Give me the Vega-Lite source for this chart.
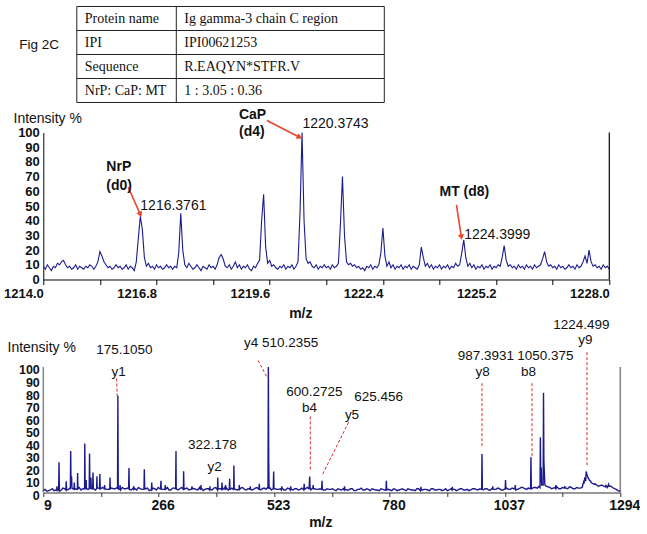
{
"$schema": "https://vega.github.io/schema/vega-lite/v6.json",
"padding": {"left": 3.3, "top": 5.5, "right": 0, "bottom": 0},
"bounds": "flush",
"spacing": 30,
"config": {"view": {"stroke": null}, "font": "Liberation Sans", "axis": {"labelFont": "Liberation Sans", "titleFont": "Liberation Sans", "grid": false, "labelColor": "#111", "titleColor": "#111", "labelOverlap": false}},
"datasets": {
"table": [{"row":"Protein name","value":"Ig gamma-3 chain C region"},{"row":"IPI","value":"IPI00621253"},{"row":"Sequence","value":"R.EAQYN*STFR.V"},{"row":"NrP: CaP: MT","value":"1 : 3.05 : 0.36"}],
"top": [
{"mz":1214.00,"i":9},{"mz":1214.05,"i":7},{"mz":1214.10,"i":10},{"mz":1214.15,"i":8},{"mz":1214.20,"i":6},{"mz":1214.25,"i":9},{"mz":1214.30,"i":8},{"mz":1214.35,"i":11},{"mz":1214.40,"i":10},{"mz":1214.45,"i":12},
{"mz":1214.50,"i":13},{"mz":1214.55,"i":10},{"mz":1214.60,"i":8},{"mz":1214.65,"i":9},{"mz":1214.70,"i":7},{"mz":1214.75,"i":8},{"mz":1214.80,"i":10},{"mz":1214.85,"i":7},{"mz":1214.90,"i":9},{"mz":1214.95,"i":8},
{"mz":1215.00,"i":7},{"mz":1215.05,"i":9},{"mz":1215.10,"i":8},{"mz":1215.15,"i":10},{"mz":1215.20,"i":9},{"mz":1215.25,"i":7},{"mz":1215.30,"i":9},{"mz":1215.35,"i":12},{"mz":1215.40,"i":19},{"mz":1215.45,"i":16},
{"mz":1215.50,"i":12},{"mz":1215.55,"i":10},{"mz":1215.60,"i":8},{"mz":1215.65,"i":9},{"mz":1215.70,"i":7},{"mz":1215.75,"i":8},{"mz":1215.80,"i":10},{"mz":1215.85,"i":8},{"mz":1215.90,"i":9},{"mz":1215.95,"i":7},
{"mz":1216.00,"i":8},{"mz":1216.05,"i":10},{"mz":1216.10,"i":7},{"mz":1216.15,"i":9},{"mz":1216.20,"i":8},{"mz":1216.25,"i":6},{"mz":1216.30,"i":12},{"mz":1216.35,"i":28},{"mz":1216.40,"i":43},{"mz":1216.45,"i":34},
{"mz":1216.50,"i":15},{"mz":1216.55,"i":9},{"mz":1216.60,"i":11},{"mz":1216.65,"i":8},{"mz":1216.70,"i":9},{"mz":1216.75,"i":7},{"mz":1216.80,"i":10},{"mz":1216.85,"i":8},{"mz":1216.90,"i":9},{"mz":1216.95,"i":7},
{"mz":1217.00,"i":8},{"mz":1217.05,"i":10},{"mz":1217.10,"i":8},{"mz":1217.15,"i":9},{"mz":1217.20,"i":7},{"mz":1217.25,"i":9},{"mz":1217.30,"i":8},{"mz":1217.35,"i":18},{"mz":1217.40,"i":45},{"mz":1217.45,"i":20},
{"mz":1217.50,"i":10},{"mz":1217.55,"i":8},{"mz":1217.60,"i":11},{"mz":1217.65,"i":9},{"mz":1217.70,"i":7},{"mz":1217.75,"i":8},{"mz":1217.80,"i":10},{"mz":1217.85,"i":8},{"mz":1217.90,"i":6},{"mz":1217.95,"i":9},
{"mz":1218.00,"i":8},{"mz":1218.05,"i":7},{"mz":1218.10,"i":10},{"mz":1218.15,"i":8},{"mz":1218.20,"i":9},{"mz":1218.25,"i":7},{"mz":1218.30,"i":10},{"mz":1218.35,"i":15},{"mz":1218.40,"i":17},{"mz":1218.45,"i":14},
{"mz":1218.50,"i":9},{"mz":1218.55,"i":8},{"mz":1218.60,"i":10},{"mz":1218.65,"i":7},{"mz":1218.70,"i":9},{"mz":1218.75,"i":12},{"mz":1218.80,"i":8},{"mz":1218.85,"i":10},{"mz":1218.90,"i":7},{"mz":1218.95,"i":9},
{"mz":1219.00,"i":8},{"mz":1219.05,"i":10},{"mz":1219.10,"i":7},{"mz":1219.15,"i":6},{"mz":1219.20,"i":9},{"mz":1219.25,"i":8},{"mz":1219.30,"i":11},{"mz":1219.35,"i":13},{"mz":1219.40,"i":40},{"mz":1219.45,"i":58},
{"mz":1219.50,"i":22},{"mz":1219.55,"i":11},{"mz":1219.60,"i":13},{"mz":1219.65,"i":9},{"mz":1219.70,"i":10},{"mz":1219.75,"i":8},{"mz":1219.80,"i":7},{"mz":1219.85,"i":9},{"mz":1219.90,"i":8},{"mz":1219.95,"i":10},
{"mz":1220.00,"i":7},{"mz":1220.05,"i":9},{"mz":1220.10,"i":8},{"mz":1220.15,"i":10},{"mz":1220.20,"i":7},{"mz":1220.25,"i":9},{"mz":1220.30,"i":12},{"mz":1220.35,"i":45},{"mz":1220.40,"i":100},{"mz":1220.45,"i":40},
{"mz":1220.50,"i":14},{"mz":1220.55,"i":11},{"mz":1220.60,"i":12},{"mz":1220.65,"i":9},{"mz":1220.70,"i":8},{"mz":1220.75,"i":10},{"mz":1220.80,"i":7},{"mz":1220.85,"i":9},{"mz":1220.90,"i":8},{"mz":1220.95,"i":10},
{"mz":1221.00,"i":8},{"mz":1221.05,"i":9},{"mz":1221.10,"i":7},{"mz":1221.15,"i":10},{"mz":1221.20,"i":8},{"mz":1221.25,"i":9},{"mz":1221.30,"i":11},{"mz":1221.35,"i":38},{"mz":1221.40,"i":70},{"mz":1221.45,"i":30},
{"mz":1221.50,"i":12},{"mz":1221.55,"i":10},{"mz":1221.60,"i":11},{"mz":1221.65,"i":9},{"mz":1221.70,"i":10},{"mz":1221.75,"i":8},{"mz":1221.80,"i":9},{"mz":1221.85,"i":7},{"mz":1221.90,"i":8},{"mz":1221.95,"i":6},
{"mz":1222.00,"i":9},{"mz":1222.05,"i":8},{"mz":1222.10,"i":10},{"mz":1222.15,"i":7},{"mz":1222.20,"i":9},{"mz":1222.25,"i":8},{"mz":1222.30,"i":10},{"mz":1222.35,"i":18},{"mz":1222.40,"i":35},{"mz":1222.45,"i":16},
{"mz":1222.50,"i":9},{"mz":1222.55,"i":12},{"mz":1222.60,"i":8},{"mz":1222.65,"i":10},{"mz":1222.70,"i":7},{"mz":1222.75,"i":9},{"mz":1222.80,"i":8},{"mz":1222.85,"i":10},{"mz":1222.90,"i":7},{"mz":1222.95,"i":9},
{"mz":1223.00,"i":8},{"mz":1223.05,"i":10},{"mz":1223.10,"i":7},{"mz":1223.15,"i":9},{"mz":1223.20,"i":8},{"mz":1223.25,"i":7},{"mz":1223.30,"i":10},{"mz":1223.35,"i":22},{"mz":1223.40,"i":15},{"mz":1223.45,"i":9},
{"mz":1223.50,"i":11},{"mz":1223.55,"i":8},{"mz":1223.60,"i":10},{"mz":1223.65,"i":7},{"mz":1223.70,"i":9},{"mz":1223.75,"i":8},{"mz":1223.80,"i":10},{"mz":1223.85,"i":7},{"mz":1223.90,"i":9},{"mz":1223.95,"i":8},
{"mz":1224.00,"i":10},{"mz":1224.05,"i":7},{"mz":1224.10,"i":9},{"mz":1224.15,"i":8},{"mz":1224.20,"i":11},{"mz":1224.25,"i":9},{"mz":1224.30,"i":10},{"mz":1224.35,"i":18},{"mz":1224.40,"i":27},{"mz":1224.45,"i":15},
{"mz":1224.50,"i":9},{"mz":1224.55,"i":11},{"mz":1224.60,"i":8},{"mz":1224.65,"i":10},{"mz":1224.70,"i":7},{"mz":1224.75,"i":9},{"mz":1224.80,"i":8},{"mz":1224.85,"i":10},{"mz":1224.90,"i":7},{"mz":1224.95,"i":9},
{"mz":1225.00,"i":8},{"mz":1225.05,"i":10},{"mz":1225.10,"i":7},{"mz":1225.15,"i":9},{"mz":1225.20,"i":8},{"mz":1225.25,"i":10},{"mz":1225.30,"i":9},{"mz":1225.35,"i":15},{"mz":1225.40,"i":23},{"mz":1225.45,"i":13},
{"mz":1225.50,"i":9},{"mz":1225.55,"i":10},{"mz":1225.60,"i":8},{"mz":1225.65,"i":9},{"mz":1225.70,"i":7},{"mz":1225.75,"i":10},{"mz":1225.80,"i":8},{"mz":1225.85,"i":9},{"mz":1225.90,"i":7},{"mz":1225.95,"i":10},
{"mz":1226.00,"i":8},{"mz":1226.05,"i":9},{"mz":1226.10,"i":7},{"mz":1226.15,"i":10},{"mz":1226.20,"i":8},{"mz":1226.25,"i":9},{"mz":1226.30,"i":10},{"mz":1226.35,"i":14},{"mz":1226.40,"i":19},{"mz":1226.45,"i":12},
{"mz":1226.50,"i":9},{"mz":1226.55,"i":10},{"mz":1226.60,"i":8},{"mz":1226.65,"i":9},{"mz":1226.70,"i":7},{"mz":1226.75,"i":10},{"mz":1226.80,"i":8},{"mz":1226.85,"i":9},{"mz":1226.90,"i":7},{"mz":1226.95,"i":8},
{"mz":1227.00,"i":10},{"mz":1227.05,"i":8},{"mz":1227.10,"i":9},{"mz":1227.15,"i":7},{"mz":1227.20,"i":10},{"mz":1227.25,"i":8},{"mz":1227.30,"i":9},{"mz":1227.35,"i":12},{"mz":1227.40,"i":16},{"mz":1227.45,"i":11},
{"mz":1227.50,"i":20},{"mz":1227.55,"i":12},{"mz":1227.60,"i":9},{"mz":1227.65,"i":10},{"mz":1227.70,"i":8},{"mz":1227.75,"i":9},{"mz":1227.80,"i":7},{"mz":1227.85,"i":10},{"mz":1227.90,"i":8},{"mz":1227.95,"i":9},
{"mz":1228.00,"i":7}
],
"topLabels": [
{"mz":1218.84,"i":111.6,"text":"CaP","kind":"name"},
{"mz":1218.84,"i":100.2,"text":"(d4)","kind":"name"},
{"mz":1215.56,"i":76.4,"text":"NrP","kind":"name"},
{"mz":1215.56,"i":63.9,"text":"(d0)","kind":"name"},
{"mz":1223.80,"i":59.4,"text":"MT (d8)","kind":"name"},
{"mz":1220.41,"i":106.1,"text":"1220.3743","kind":"mz"},
{"mz":1216.40,"i":49.7,"text":"1216.3761","kind":"mz"},
{"mz":1224.41,"i":30.4,"text":"1224.3999","kind":"mz"}
],
"arrows": [
{"name":"CaP","mz":1219.53,"i":108.2,"mz2":1220.34,"i2":96.8},
{"name":"NrP","mz":1216.10,"i":62.8,"mz2":1216.40,"i2":44.2},
{"name":"MT","mz":1224.22,"i":50.8,"mz2":1224.34,"i2":28.8}
],
"bottom": [
{"mz":9,"i":1.5},{"mz":17,"i":1},{"mz":25,"i":2},{"mz":33,"i":1.5},{"mz":41,"i":2.5},{"mz":49,"i":2},{"mz":57,"i":3},{"mz":65,"i":2.5},{"mz":73,"i":3.5},{"mz":81,"i":3},
{"mz":89,"i":4},{"mz":97,"i":3},{"mz":105,"i":3.5},{"mz":113,"i":4},{"mz":121,"i":3},{"mz":129,"i":4.5},{"mz":137,"i":3},{"mz":145,"i":3.5},{"mz":153,"i":2.5},{"mz":161,"i":3.5},
{"mz":169,"i":3},{"mz":177,"i":2.5},{"mz":185,"i":4},{"mz":193,"i":3},{"mz":201,"i":2.5},{"mz":209,"i":3.5},{"mz":217,"i":2},{"mz":225,"i":3},{"mz":233,"i":2.5},{"mz":241,"i":3.5},
{"mz":249,"i":2},{"mz":257,"i":3},{"mz":265,"i":4},{"mz":273,"i":2.5},{"mz":281,"i":3},{"mz":289,"i":2},{"mz":297,"i":3.5},{"mz":305,"i":2.5},{"mz":313,"i":3},{"mz":321,"i":2},
{"mz":329,"i":3.5},{"mz":337,"i":2.5},{"mz":345,"i":3},{"mz":353,"i":2},{"mz":361,"i":3.5},{"mz":369,"i":2.5},{"mz":377,"i":3},{"mz":385,"i":2},{"mz":393,"i":4},{"mz":401,"i":3},
{"mz":409,"i":2.5},{"mz":417,"i":3.5},{"mz":425,"i":2.5},{"mz":433,"i":3},{"mz":441,"i":2},{"mz":449,"i":3.5},{"mz":457,"i":2.5},{"mz":465,"i":3},{"mz":473,"i":2},{"mz":481,"i":3.5},
{"mz":489,"i":2.5},{"mz":497,"i":3},{"mz":505,"i":2.5},{"mz":513,"i":4},{"mz":521,"i":3},{"mz":529,"i":2.5},{"mz":537,"i":3},{"mz":545,"i":2},{"mz":553,"i":3.5},{"mz":561,"i":2.5},
{"mz":569,"i":3},{"mz":577,"i":2},{"mz":585,"i":3.5},{"mz":593,"i":3},{"mz":601,"i":2.5},{"mz":609,"i":3.5},{"mz":617,"i":2.5},{"mz":625,"i":3},{"mz":633,"i":2},{"mz":641,"i":3},
{"mz":649,"i":2.5},{"mz":657,"i":2},{"mz":665,"i":3},{"mz":673,"i":2},{"mz":681,"i":2.5},{"mz":689,"i":2},{"mz":697,"i":3},{"mz":705,"i":1.5},{"mz":713,"i":2.5},{"mz":721,"i":2},
{"mz":729,"i":3},{"mz":737,"i":1.5},{"mz":745,"i":2.5},{"mz":753,"i":2},{"mz":761,"i":3},{"mz":769,"i":2},{"mz":777,"i":2.5},{"mz":785,"i":1.5},{"mz":793,"i":2.5},{"mz":801,"i":2},
{"mz":809,"i":3},{"mz":817,"i":1.5},{"mz":825,"i":2.5},{"mz":833,"i":2},{"mz":841,"i":3},{"mz":849,"i":1.5},{"mz":857,"i":2.5},{"mz":865,"i":2},{"mz":873,"i":3},{"mz":881,"i":2},
{"mz":889,"i":2.5},{"mz":897,"i":1.5},{"mz":905,"i":3},{"mz":913,"i":2},{"mz":921,"i":2.5},{"mz":929,"i":1.5},{"mz":937,"i":3},{"mz":945,"i":2},{"mz":953,"i":2.5},{"mz":961,"i":2},
{"mz":969,"i":3},{"mz":977,"i":2},{"mz":985,"i":2.5},{"mz":993,"i":3},{"mz":1001,"i":2},{"mz":1009,"i":3.5},{"mz":1017,"i":2.5},{"mz":1025,"i":3},{"mz":1033,"i":2},{"mz":1041,"i":3.5},
{"mz":1049,"i":2.5},{"mz":1057,"i":3},{"mz":1065,"i":2.5},{"mz":1073,"i":4},{"mz":1081,"i":3},{"mz":1089,"i":3.5},{"mz":1097,"i":3},{"mz":1105,"i":4},{"mz":1113,"i":5},{"mz":1121,"i":6},
{"mz":1129,"i":5},{"mz":1137,"i":4},{"mz":1145,"i":3.5},{"mz":1153,"i":4.5},{"mz":1161,"i":3},{"mz":1169,"i":3.5},{"mz":1177,"i":3},{"mz":1185,"i":4},{"mz":1193,"i":3},{"mz":1201,"i":3.5},
{"mz":1209,"i":4},{"mz":1217,"i":9},{"mz":1225,"i":10},{"mz":1233,"i":7},{"mz":1241,"i":6},{"mz":1249,"i":5.5},{"mz":1257,"i":5},{"mz":1265,"i":4},{"mz":1273,"i":5},{"mz":1281,"i":3},
{"mz":1289,"i":1.5},{"mz":1294,"i":1},
{"mz":13,"i":2.5},{"mz":21,"i":1.5},{"mz":29,"i":3},{"mz":37,"i":2},{"mz":45,"i":1},{"mz":53,"i":3.5},{"mz":61,"i":2},{"mz":69,"i":4},{"mz":77,"i":2.5},{"mz":85,"i":3},
{"mz":93,"i":2},{"mz":101,"i":4.5},{"mz":109,"i":2.5},{"mz":117,"i":3},{"mz":125,"i":2},{"mz":133,"i":3.5},{"mz":141,"i":4},{"mz":149,"i":2.5},{"mz":157,"i":2},{"mz":165,"i":3},
{"mz":173,"i":4},{"mz":181,"i":2},{"mz":189,"i":3},{"mz":197,"i":3.5},{"mz":205,"i":2},{"mz":213,"i":3},{"mz":221,"i":4},{"mz":229,"i":2.5},{"mz":237,"i":3},{"mz":245,"i":1.5},
{"mz":253,"i":3.5},{"mz":261,"i":2},{"mz":269,"i":3},{"mz":277,"i":2.5},{"mz":285,"i":4},{"mz":293,"i":2},{"mz":301,"i":3.5},{"mz":309,"i":2},{"mz":317,"i":4},{"mz":325,"i":3},
{"mz":333,"i":2},{"mz":341,"i":3.5},{"mz":349,"i":2.5},{"mz":357,"i":4},{"mz":365,"i":1.5},{"mz":373,"i":3},{"mz":381,"i":2.5},{"mz":389,"i":3.5},{"mz":397,"i":2},{"mz":405,"i":3},
{"mz":413,"i":4},{"mz":421,"i":2},{"mz":429,"i":3.5},{"mz":437,"i":2.5},{"mz":445,"i":3},{"mz":453,"i":4},{"mz":461,"i":2},{"mz":469,"i":3},{"mz":477,"i":2.5},{"mz":485,"i":4},
{"mz":493,"i":2},{"mz":501,"i":3.5},{"mz":509,"i":4.5},{"mz":517,"i":2},{"mz":525,"i":3},{"mz":533,"i":2.5},{"mz":541,"i":3.5},{"mz":549,"i":2},{"mz":557,"i":3},{"mz":565,"i":2},
{"mz":573,"i":3},{"mz":581,"i":2.5},{"mz":589,"i":2},{"mz":597,"i":4},{"mz":605,"i":2},{"mz":613,"i":3},{"mz":621,"i":2.5},{"mz":629,"i":3.5},{"mz":637,"i":2},{"mz":645,"i":2.5},
{"mz":653,"i":3},{"mz":661,"i":1.5},{"mz":669,"i":2.5},{"mz":677,"i":3},{"mz":685,"i":2},{"mz":693,"i":3},{"mz":701,"i":1.5},{"mz":709,"i":2.5},{"mz":717,"i":3.5},{"mz":725,"i":2},
{"mz":733,"i":2.5},{"mz":741,"i":3},{"mz":749,"i":2},{"mz":757,"i":1.5},{"mz":765,"i":2.5},{"mz":773.5,"i":3.5},{"mz":781,"i":2},{"mz":789,"i":3},{"mz":797,"i":1.5},{"mz":805,"i":2.5},
{"mz":813,"i":2},{"mz":821,"i":3},{"mz":829,"i":2},{"mz":837,"i":1.5},{"mz":845,"i":3},{"mz":853,"i":2},{"mz":861,"i":2.5},{"mz":869,"i":1.5},{"mz":877,"i":3},{"mz":885,"i":2},
{"mz":893,"i":2.5},{"mz":901,"i":2},{"mz":909,"i":1.5},{"mz":917,"i":3},{"mz":925,"i":2.5},{"mz":933,"i":2},{"mz":941,"i":3},{"mz":949,"i":2},{"mz":957,"i":1.5},{"mz":965,"i":3},
{"mz":973,"i":2.5},{"mz":981,"i":3},{"mz":989,"i":2},{"mz":997,"i":3},{"mz":1005,"i":2},{"mz":1013,"i":2.5},{"mz":1021,"i":3.5},{"mz":1029,"i":2},{"mz":1037,"i":3},{"mz":1045,"i":2.5},
{"mz":1053,"i":3.5},{"mz":1061,"i":2},{"mz":1069,"i":3},{"mz":1077,"i":4},{"mz":1085,"i":2.5},{"mz":1093,"i":3},{"mz":1101,"i":4},{"mz":1109,"i":3.5},
{"mz":1133,"i":4.5},{"mz":1141,"i":3},{"mz":1149,"i":4},{"mz":1157,"i":3},{"mz":1165,"i":4},{"mz":1173,"i":3.5},{"mz":1181,"i":4.5},{"mz":1189,"i":3},{"mz":1197,"i":4},{"mz":1205,"i":3.5},
{"mz":1213,"i":7},{"mz":1221,"i":13},{"mz":1229,"i":8},{"mz":1237,"i":6.5},{"mz":1245,"i":5},{"mz":1253,"i":6},{"mz":1261,"i":4.5},{"mz":1269,"i":5},{"mz":1277,"i":4},{"mz":1285,"i":2.5},
{"mz":38.7,"i":2},{"mz":39.5,"i":5},{"mz":40.3,"i":2},
{"mz":43.2,"i":2},{"mz":44,"i":24},{"mz":44.8,"i":2},
{"mz":59.2,"i":2},{"mz":60,"i":9},{"mz":60.8,"i":2.5},
{"mz":69.2,"i":2.5},{"mz":70,"i":33},{"mz":70.8,"i":5},{"mz":72,"i":13},{"mz":72.8,"i":3},
{"mz":77.2,"i":2.5},{"mz":78,"i":8},{"mz":78.8,"i":2.5},
{"mz":84.2,"i":2.5},{"mz":85.4,"i":15.5},{"mz":86.2,"i":3},
{"mz":100.2,"i":3},{"mz":101.4,"i":39},{"mz":102.2,"i":3},
{"mz":103.7,"i":3},{"mz":104.5,"i":10},{"mz":105.3,"i":3},
{"mz":111.2,"i":3},{"mz":112,"i":31},{"mz":112.8,"i":3.5},
{"mz":114.2,"i":3},{"mz":115,"i":12},{"mz":115.8,"i":3},
{"mz":118.9,"i":3},{"mz":119.7,"i":16},{"mz":120.5,"i":3},
{"mz":127.7,"i":3},{"mz":128.5,"i":13},{"mz":129.3,"i":3.5},
{"mz":134.2,"i":3},{"mz":135,"i":14.7},{"mz":135.8,"i":3},
{"mz":144.7,"i":3},{"mz":145.5,"i":6},{"mz":146.3,"i":3},
{"mz":156.7,"i":3},{"mz":157.5,"i":12},{"mz":158.3,"i":3},
{"mz":174.3,"i":3},{"mz":175.1,"i":77},{"mz":175.9,"i":3},
{"mz":179.2,"i":3},{"mz":180,"i":6},{"mz":180.8,"i":3},
{"mz":199,"i":3},{"mz":199.8,"i":19.5},{"mz":200.6,"i":3},
{"mz":209.7,"i":3},{"mz":210.5,"i":5},{"mz":211.3,"i":2.5},
{"mz":233.2,"i":2.5},{"mz":234,"i":18.6},{"mz":234.8,"i":3},
{"mz":249.7,"i":2.5},{"mz":250.5,"i":8},{"mz":251.3,"i":2.5},
{"mz":270.2,"i":3},{"mz":271,"i":9.4},{"mz":271.8,"i":2.5},
{"mz":279.7,"i":2.5},{"mz":280.5,"i":6},{"mz":281.3,"i":2.5},
{"mz":303.7,"i":3},{"mz":304.5,"i":33},{"mz":305.3,"i":3},
{"mz":320.7,"i":2.5},{"mz":321.5,"i":17},{"mz":322.3,"i":2.5},
{"mz":339.2,"i":2.5},{"mz":340,"i":5},{"mz":340.8,"i":2.5},
{"mz":359.2,"i":2},{"mz":360,"i":6},{"mz":360.8,"i":2.5},
{"mz":379.2,"i":2},{"mz":380,"i":5},{"mz":380.8,"i":2},
{"mz":396.2,"i":2.5},{"mz":397.4,"i":12},{"mz":398.2,"i":2.5},
{"mz":406.2,"i":2.5},{"mz":407,"i":8},{"mz":407.8,"i":2.5},
{"mz":414.2,"i":2},{"mz":415,"i":6},{"mz":415.8,"i":2.5},
{"mz":423.2,"i":2.5},{"mz":424,"i":11},{"mz":424.8,"i":2.5},
{"mz":432.2,"i":2.5},{"mz":433.4,"i":21.6},{"mz":434.2,"i":3},
{"mz":444.2,"i":2.5},{"mz":445.4,"i":6},{"mz":446.2,"i":2.5},
{"mz":469.2,"i":2},{"mz":470,"i":5},{"mz":470.8,"i":2.5},
{"mz":489.2,"i":2.5},{"mz":490,"i":7},{"mz":490.8,"i":2.5},
{"mz":509.4,"i":3},{"mz":510.2,"i":100},{"mz":511,"i":26},{"mz":511.8,"i":3},
{"mz":521.2,"i":3},{"mz":522,"i":16.8},{"mz":522.8,"i":3},
{"mz":539.2,"i":2},{"mz":540,"i":5},{"mz":540.8,"i":2.5},
{"mz":559.2,"i":2},{"mz":560,"i":5},{"mz":560.8,"i":2.5},
{"mz":589.2,"i":2.5},{"mz":590,"i":7},{"mz":590.8,"i":2.5},
{"mz":600.5,"i":3},{"mz":601.5,"i":8},{"mz":602.3,"i":12.8},{"mz":603.1,"i":4},
{"mz":609.2,"i":3},{"mz":610,"i":6},{"mz":610.8,"i":3},
{"mz":628.9,"i":2.5},{"mz":629.7,"i":9.4},{"mz":630.5,"i":2.5},
{"mz":679.2,"i":2},{"mz":680,"i":5},{"mz":680.8,"i":2},
{"mz":772.2,"i":2},{"mz":773,"i":9.4},{"mz":773.8,"i":2},
{"mz":849.2,"i":2},{"mz":850,"i":4.5},{"mz":850.8,"i":2},
{"mz":919.2,"i":2},{"mz":920,"i":4.5},{"mz":920.8,"i":2},
{"mz":985.2,"i":2.5},{"mz":986,"i":30.6},{"mz":986.8,"i":2.5},
{"mz":1009.2,"i":2.5},{"mz":1010,"i":5},{"mz":1010.8,"i":2.5},
{"mz":1037.6,"i":2.5},{"mz":1038.4,"i":10},{"mz":1039.2,"i":3},
{"mz":1059.2,"i":3},{"mz":1060,"i":6},{"mz":1060.8,"i":3},
{"mz":1094.2,"i":3},{"mz":1095,"i":28},{"mz":1095.8,"i":4},
{"mz":1115.2,"i":4},{"mz":1116,"i":44},{"mz":1116.8,"i":8},{"mz":1118,"i":20},{"mz":1119,"i":6},
{"mz":1122.2,"i":6},{"mz":1123,"i":79.5},{"mz":1123.8,"i":25},{"mz":1125,"i":15},{"mz":1126,"i":6},
{"mz":1149.6,"i":3.5},{"mz":1150.4,"i":6},{"mz":1151.2,"i":3.5},
{"mz":1169.6,"i":3.5},{"mz":1170.4,"i":5},{"mz":1171.2,"i":3.5},
{"mz":1212,"i":8},{"mz":1215,"i":12},{"mz":1218,"i":16.8},{"mz":1220,"i":14},{"mz":1222,"i":12},{"mz":1228,"i":9},{"mz":1238,"i":7},{"mz":1262,"i":5.5},{"mz":1268,"i":6.5},{"mz":1272,"i":5}
],
"bottomLabels": [
{"mz":189.4,"i":113.9,"text":"175.1050"},
{"mz":176.7,"i":95.9,"text":"y1"},
{"mz":385.4,"i":37.5,"text":"322.178"},
{"mz":390.5,"i":20.2,"text":"y2"},
{"mz":538.6,"i":119,"text":"y4 510.2355"},
{"mz":612.5,"i":79.9,"text":"600.2725"},
{"mz":602.1,"i":67.5,"text":"b4"},
{"mz":755.7,"i":75.9,"text":"625.456"},
{"mz":696.5,"i":61.9,"text":"y5"},
{"mz":994.5,"i":108.4,"text":"987.3931"},
{"mz":987.3,"i":95.9,"text":"y8"},
{"mz":1127,"i":108.4,"text":"1050.375"},
{"mz":1089.8,"i":95.9,"text":"b8"},
{"mz":1207.2,"i":133.3,"text":"1224.499"},
{"mz":1216.1,"i":121.7,"text":"y9"}
],
"bottomLines": [
{"ion":"y1","mz":172.2,"i":90.8,"mz2":173.8,"i2":75.9},
{"ion":"y4","mz":487.2,"i":105.2,"mz2":507.2,"i2":91.9},
{"ion":"b4","mz":603.6,"i":60.6,"mz2":603.6,"i2":17.5},
{"ion":"y5","mz":689,"i":56,"mz2":629.7,"i2":13.5},
{"ion":"y8","mz":986,"i":87.1,"mz2":986,"i2":36.1},
{"ion":"b8","mz":1097.3,"i":87.1,"mz2":1097.3,"i2":28.1},
{"ion":"y9","mz":1219.9,"i":111.8,"mz2":1219.9,"i2":20.2}
]
},
"vconcat": [
{
"width": 577, "height": 96,
"layer": [
{"data": {"name": "table"},
 "mark": {"type": "rect", "fill": "white", "stroke": "#222", "strokeWidth": 1},
 "encoding": {
  "y": {"field": "row", "type": "nominal", "sort": null, "axis": null, "scale": {"paddingInner": 0, "paddingOuter": 0}},
  "x": {"datum": 33.5, "type": "quantitative", "scale": {"domain": [0, 577], "nice": false, "zero": false}, "axis": null},
  "x2": {"datum": 341}}},
{"data": {"values": [{"line": "divider"}]},
 "mark": {"type": "rule", "color": "#222", "strokeWidth": 1},
 "encoding": {"x": {"datum": 133, "type": "quantitative"}}},
{"data": {"name": "table"},
 "mark": {"type": "text", "align": "left", "baseline": "middle", "font": "Liberation Serif", "fontSize": 14, "color": "#111"},
 "encoding": {"y": {"field": "row", "type": "nominal", "sort": null}, "x": {"datum": 41.5, "type": "quantitative"}, "text": {"field": "row"}}},
{"data": {"name": "table"},
 "mark": {"type": "text", "align": "left", "baseline": "middle", "font": "Liberation Serif", "fontSize": 14, "color": "#111"},
 "encoding": {"y": {"field": "row", "type": "nominal", "sort": null}, "x": {"datum": 141, "type": "quantitative"}, "text": {"field": "value"}}},
{"data": {"values": [{"label": "Fig 2C"}]},
 "mark": {"type": "text", "align": "left", "baseline": "middle", "fontSize": 13.5, "color": "#111", "dy": 2},
 "encoding": {"y": {"datum": "IPI", "type": "nominal"}, "x": {"datum": -24, "type": "quantitative"}, "text": {"field": "label"}}}
]
},
{
"width": 566, "height": 147,
"layer": [
{"data": {"name": "top"},
 "mark": {"type": "line", "color": "#1b1b8f", "strokeWidth": 1.1},
 "encoding": {
  "x": {"field": "mz", "type": "quantitative", "scale": {"domain": [1214, 1228], "nice": false, "zero": false},
   "axis": {"values": [1214, 1215.4, 1216.8, 1218.2, 1219.6, 1221, 1222.4, 1223.8, 1225.2, 1226.6, 1228], "format": ".1f", "tickCount": 20,
    "labelExpr": "round((datum.value - 1214) * 10) % 28 == 0 ? datum.label : ''",
    "labelAlign": "right", "labelFlush": false, "labelOverlap": false, "labelBound": false,
    "labelFontWeight": "bold", "labelFontSize": 13, "labelPadding": 3, "tickSize": 5, "tickColor": "black", "domainColor": "black",
    "title": "m/z", "titleFontWeight": "bold", "titleFontSize": 14, "titleX": 257, "titleY": 34, "titleAlign": "center", "titleBaseline": "middle"}},
  "y": {"field": "i", "type": "quantitative", "scale": {"domain": [0, 100], "nice": false},
   "axis": {"values": [0, 10, 20, 30, 40, 50, 60, 70, 80, 90, 100], "tickCount": 20, "labelOverlap": false, "labelFontWeight": "bold", "labelFontSize": 13,
    "ticks": false, "labelPadding": 4, "domainColor": "black", "labelOffset": 0,
    "title": "Intensity %", "titleAngle": 0, "titleAlign": "left", "titleBaseline": "middle", "titleX": -30.3, "titleY": -14,
    "titleFontWeight": "normal", "titleFontSize": 14}}}},
{"data": {"values": [{"line": "right"}]},
 "mark": {"type": "rule", "color": "black", "strokeWidth": 1.2},
 "encoding": {"x": {"datum": 1228, "type": "quantitative"}}},
{"data": {"name": "arrows"},
 "mark": {"type": "rule", "color": "#e8452c", "strokeWidth": 1.6},
 "encoding": {"x": {"field": "mz", "type": "quantitative"}, "y": {"field": "i", "type": "quantitative"}, "x2": {"field": "mz2"}, "y2": {"field": "i2"}}},
{"data": {"name": "arrows"}, "transform": [{"filter": "datum.name == 'CaP'"}],
 "mark": {"type": "point", "shape": "triangle-up", "filled": true, "color": "#e8452c", "size": 40, "angle": 117, "opacity": 1},
 "encoding": {"x": {"field": "mz2", "type": "quantitative"}, "y": {"field": "i2", "type": "quantitative"}}},
{"data": {"name": "arrows"}, "transform": [{"filter": "datum.name == 'NrP'"}],
 "mark": {"type": "point", "shape": "triangle-up", "filled": true, "color": "#e8452c", "size": 40, "angle": 156, "opacity": 1},
 "encoding": {"x": {"field": "mz2", "type": "quantitative"}, "y": {"field": "i2", "type": "quantitative"}}},
{"data": {"name": "arrows"}, "transform": [{"filter": "datum.name == 'MT'"}],
 "mark": {"type": "point", "shape": "triangle-up", "filled": true, "color": "#e8452c", "size": 40, "angle": 171, "opacity": 1},
 "encoding": {"x": {"field": "mz2", "type": "quantitative"}, "y": {"field": "i2", "type": "quantitative"}}},
{"data": {"name": "topLabels"}, "transform": [{"filter": "datum.kind == 'name'"}],
 "mark": {"type": "text", "align": "left", "baseline": "middle", "fontSize": 14, "fontWeight": "bold", "color": "#111"},
 "encoding": {"x": {"field": "mz", "type": "quantitative"}, "y": {"field": "i", "type": "quantitative"}, "text": {"field": "text"}}},
{"data": {"name": "topLabels"}, "transform": [{"filter": "datum.kind == 'mz'"}],
 "mark": {"type": "text", "align": "left", "baseline": "middle", "fontSize": 14, "color": "#111"},
 "encoding": {"x": {"field": "mz", "type": "quantitative"}, "y": {"field": "i", "type": "quantitative"}, "text": {"field": "text"}}}
]
},
{
"width": 577, "height": 183,
"layer": [
{"data": {"values": [{"edge": "left", "mz": 9}, {"edge": "right", "mz": 1294}]},
 "mark": {"type": "rule", "color": "#8a8a8a", "strokeWidth": 1.6},
 "encoding": {"x": {"field": "mz", "type": "quantitative"}, "y": {"datum": 0, "type": "quantitative"}, "y2": {"datum": 100}}},
{"data": {"name": "bottom"},
 "mark": {"type": "line", "color": "#1b1b8f", "strokeWidth": 1.4},
 "encoding": {
  "x": {"field": "mz", "type": "quantitative", "scale": {"domain": [9, 1294], "nice": false, "zero": false},
   "axis": {"values": [9, 137.5, 266, 394.5, 523, 651.5, 780, 908.5, 1037, 1165.5, 1294], "format": "d", "tickCount": 20,
    "labelExpr": "(datum.value - 9) % 257 == 0 ? datum.label : ''",
    "labelFlush": false, "labelOverlap": false, "labelBound": false, "labelOffset": 4,
    "labelFontWeight": "bold", "labelFontSize": 14, "labelPadding": 2, "tickSize": 4, "tickColor": "#333", "domainColor": "#333",
    "title": "m/z", "titleFontWeight": "bold", "titleFontSize": 14, "titleX": 277, "titleY": 30, "titleAlign": "center", "titleBaseline": "middle"}},
  "y": {"field": "i", "type": "quantitative", "scale": {"domain": [0, 145.8], "nice": false},
   "axis": {"values": [0, 10, 20, 30, 40, 50, 60, 70, 80, 90, 100], "tickCount": 20, "labelOverlap": false, "labelFontWeight": "bold", "labelFontSize": 12.5,
    "ticks": false, "domain": false, "labelPadding": 4, "labelOffset": 3,
    "title": "Intensity %", "titleAngle": 0, "titleAlign": "left", "titleBaseline": "middle", "titleX": -36.3, "titleY": 37.7,
    "titleFontWeight": "normal", "titleFontSize": 14}}}},
{"data": {"name": "bottomLines"},
 "mark": {"type": "rule", "color": "#e02828", "strokeWidth": 1, "strokeDash": [3, 2]},
 "encoding": {"x": {"field": "mz", "type": "quantitative"}, "y": {"field": "i", "type": "quantitative"}, "x2": {"field": "mz2"}, "y2": {"field": "i2"}}},
{"data": {"name": "bottomLabels"},
 "mark": {"type": "text", "align": "center", "baseline": "middle", "fontSize": 13.5, "color": "#111"},
 "encoding": {"x": {"field": "mz", "type": "quantitative"}, "y": {"field": "i", "type": "quantitative"}, "text": {"field": "text"}}}
]
}
]
}
